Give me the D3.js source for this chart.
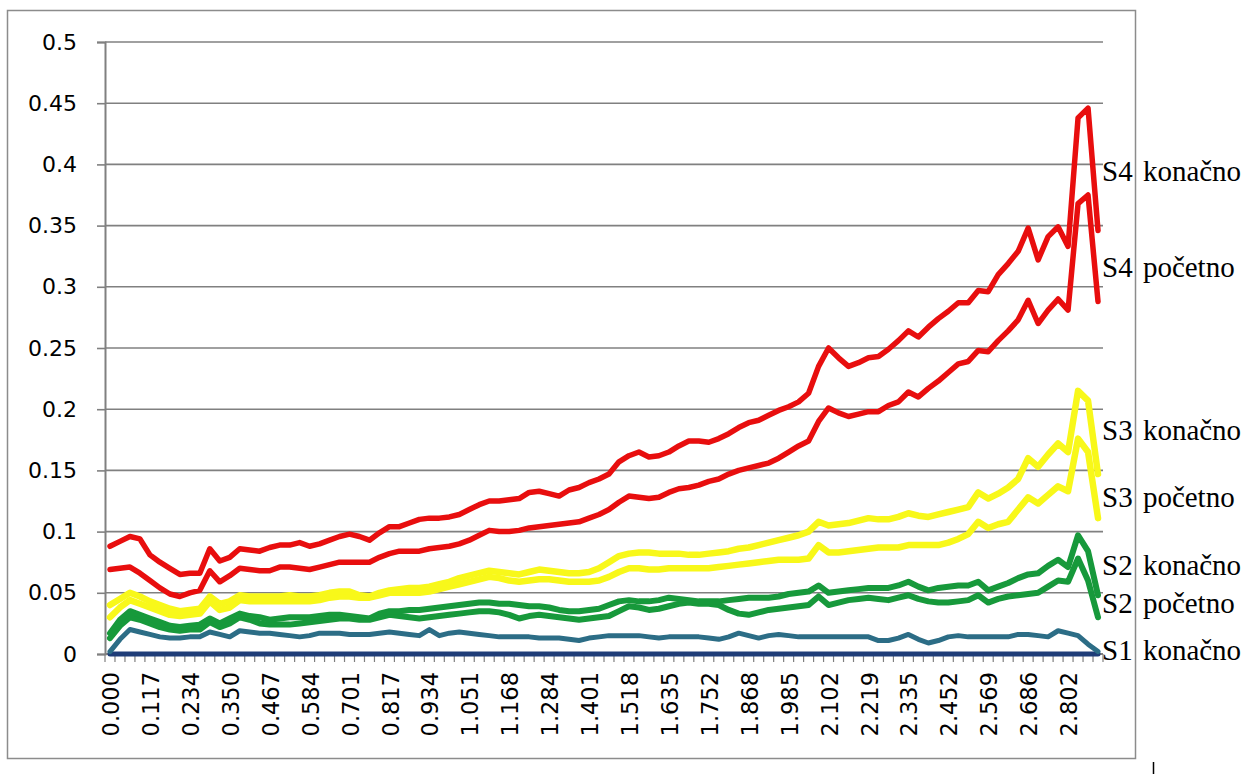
<!DOCTYPE html>
<html>
<head>
<meta charset="utf-8">
<script src="https://cdn.jsdelivr.net/npm/d3@7"></script>
<style>
  html, body { margin: 0; padding: 0; background: #fff; }
  svg { display: block; }
  .ylab text, .xlab text { font-family: "DejaVu Sans", Verdana, sans-serif; fill: #000; }
</style>
</head>
<body>
<svg id="chart" width="1257" height="774"></svg>
<script>
// Tick labels of the category (distance) axis, one every fourth category
const xTickLabels = ["0.000","0.117","0.234","0.350","0.467","0.584","0.701","0.817","0.934",
  "1.051","1.168","1.284","1.401","1.518","1.635","1.752","1.868","1.985","2.102","2.219",
  "2.335","2.452","2.569","2.686","2.802"];
const yTicks = [0, 0.05, 0.1, 0.15, 0.2, 0.25, 0.3, 0.35, 0.4, 0.45, 0.5];

// Series values, 100 points each
const s4Konacno = [0.088,0.092,0.096,0.094,0.081,0.075,0.070,0.065,0.066,0.066,
  0.086,0.076,0.079,0.086,0.085,0.084,0.087,0.089,0.089,0.091,
  0.088,0.090,0.093,0.096,0.098,0.096,0.093,0.099,0.104,0.104,
  0.107,0.110,0.111,0.111,0.112,0.114,0.118,0.122,0.125,0.125,
  0.126,0.127,0.132,0.133,0.131,0.129,0.134,0.136,0.140,0.143,
  0.147,0.157,0.162,0.165,0.161,0.162,0.165,0.170,0.174,0.174,
  0.173,0.176,0.180,0.185,0.189,0.191,0.195,0.199,0.202,0.206,
  0.213,0.235,0.250,0.242,0.235,0.238,0.242,0.243,0.249,0.256,
  0.264,0.259,0.267,0.274,0.280,0.287,0.287,0.297,0.296,0.310,
  0.319,0.329,0.348,0.322,0.341,0.349,0.333,0.438,0.446,0.346];
const s4Pocetno = [0.069,0.070,0.071,0.066,0.060,0.054,0.049,0.047,0.050,0.052,
  0.068,0.059,0.064,0.070,0.069,0.068,0.068,0.071,0.071,0.070,
  0.069,0.071,0.073,0.075,0.075,0.075,0.075,0.079,0.082,0.084,
  0.084,0.084,0.086,0.087,0.088,0.090,0.093,0.097,0.101,0.100,
  0.100,0.101,0.103,0.104,0.105,0.106,0.107,0.108,0.111,0.114,
  0.118,0.124,0.129,0.128,0.127,0.128,0.132,0.135,0.136,0.138,
  0.141,0.143,0.147,0.150,0.152,0.154,0.156,0.160,0.165,0.170,
  0.174,0.190,0.201,0.197,0.194,0.196,0.198,0.198,0.203,0.206,
  0.214,0.210,0.217,0.223,0.230,0.237,0.239,0.248,0.247,0.256,
  0.264,0.273,0.289,0.270,0.281,0.290,0.281,0.368,0.375,0.288];
const s3Konacno = [0.040,0.045,0.050,0.047,0.043,0.040,0.037,0.035,0.036,0.037,
  0.047,0.041,0.043,0.048,0.047,0.047,0.047,0.047,0.048,0.047,
  0.047,0.048,0.050,0.051,0.051,0.048,0.047,0.050,0.052,0.053,
  0.054,0.054,0.055,0.057,0.059,0.062,0.064,0.066,0.068,0.067,
  0.066,0.065,0.067,0.069,0.068,0.067,0.066,0.066,0.067,0.070,
  0.075,0.080,0.082,0.083,0.083,0.082,0.082,0.082,0.081,0.081,
  0.082,0.083,0.084,0.086,0.087,0.089,0.091,0.093,0.095,0.097,
  0.100,0.108,0.105,0.106,0.107,0.109,0.111,0.110,0.110,0.112,
  0.115,0.113,0.112,0.114,0.116,0.118,0.120,0.132,0.127,0.131,
  0.136,0.143,0.160,0.153,0.163,0.172,0.165,0.215,0.207,0.147];
const s3Pocetno = [0.030,0.038,0.044,0.041,0.038,0.035,0.032,0.031,0.032,0.033,
  0.043,0.036,0.038,0.044,0.043,0.043,0.043,0.043,0.043,0.043,
  0.043,0.044,0.046,0.047,0.047,0.046,0.046,0.048,0.050,0.050,
  0.050,0.050,0.051,0.053,0.055,0.057,0.059,0.061,0.063,0.062,
  0.060,0.059,0.060,0.061,0.061,0.060,0.059,0.059,0.059,0.060,
  0.063,0.067,0.070,0.070,0.069,0.069,0.070,0.070,0.070,0.070,
  0.070,0.071,0.072,0.073,0.074,0.075,0.076,0.077,0.077,0.077,
  0.078,0.089,0.083,0.083,0.084,0.085,0.086,0.087,0.087,0.087,
  0.089,0.089,0.089,0.089,0.091,0.094,0.098,0.108,0.103,0.106,
  0.108,0.118,0.128,0.123,0.130,0.137,0.133,0.176,0.165,0.111];
const s2Konacno = [0.017,0.028,0.035,0.032,0.029,0.026,0.023,0.022,0.023,0.024,
  0.029,0.025,0.029,0.033,0.031,0.030,0.028,0.029,0.030,0.030,
  0.030,0.031,0.032,0.032,0.031,0.030,0.029,0.033,0.035,0.035,
  0.036,0.036,0.037,0.038,0.039,0.040,0.041,0.042,0.042,0.041,
  0.041,0.040,0.039,0.039,0.038,0.036,0.035,0.035,0.036,0.037,
  0.040,0.043,0.044,0.043,0.043,0.044,0.046,0.045,0.044,0.043,
  0.043,0.043,0.044,0.045,0.046,0.046,0.046,0.047,0.049,0.050,
  0.051,0.056,0.050,0.051,0.052,0.053,0.054,0.054,0.054,0.056,
  0.059,0.055,0.052,0.054,0.055,0.056,0.056,0.059,0.052,0.055,
  0.058,0.062,0.065,0.066,0.072,0.077,0.071,0.097,0.084,0.048];
const s2Pocetno = [0.013,0.023,0.030,0.028,0.025,0.022,0.020,0.019,0.020,0.020,
  0.026,0.022,0.025,0.030,0.028,0.025,0.024,0.024,0.024,0.025,
  0.026,0.027,0.028,0.029,0.029,0.028,0.028,0.030,0.032,0.031,
  0.030,0.029,0.030,0.031,0.032,0.033,0.034,0.035,0.035,0.034,
  0.032,0.029,0.031,0.032,0.031,0.030,0.029,0.028,0.029,0.030,
  0.031,0.035,0.039,0.038,0.036,0.037,0.039,0.041,0.042,0.041,
  0.041,0.040,0.036,0.033,0.032,0.034,0.036,0.037,0.038,0.039,
  0.040,0.047,0.040,0.042,0.044,0.045,0.046,0.045,0.044,0.046,
  0.048,0.045,0.043,0.042,0.042,0.043,0.044,0.048,0.042,0.045,
  0.047,0.048,0.049,0.050,0.055,0.060,0.059,0.078,0.060,0.030];
const s1Konacno = [0.002,0.012,0.020,0.018,0.016,0.014,0.013,0.013,0.014,0.014,
  0.018,0.016,0.014,0.019,0.018,0.017,0.017,0.016,0.015,0.014,
  0.015,0.017,0.017,0.017,0.016,0.016,0.016,0.017,0.018,0.017,
  0.016,0.015,0.020,0.015,0.017,0.018,0.017,0.016,0.015,0.014,
  0.014,0.014,0.014,0.013,0.013,0.013,0.012,0.011,0.013,0.014,
  0.015,0.015,0.015,0.015,0.014,0.013,0.014,0.014,0.014,0.014,
  0.013,0.012,0.014,0.017,0.015,0.013,0.015,0.016,0.015,0.014,
  0.014,0.014,0.014,0.014,0.014,0.014,0.014,0.011,0.011,0.013,
  0.016,0.012,0.009,0.011,0.014,0.015,0.014,0.014,0.014,0.014,
  0.014,0.016,0.016,0.015,0.014,0.019,0.017,0.015,0.008,0.002];
const s1Pocetno = [0,0,0,0,0,0,0,0,0,0, 0,0,0,0,0,0,0,0,0,0,
  0,0,0,0,0,0,0,0,0,0, 0,0,0,0,0,0,0,0,0,0,
  0,0,0,0,0,0,0,0,0,0, 0,0,0,0,0,0,0,0,0,0,
  0,0,0,0,0,0,0,0,0,0, 0,0,0,0,0,0,0,0,0,0,
  0,0,0,0,0,0,0,0,0,0, 0,0,0,0,0,0,0,0,0,0];

// Series in drawing order, with colours
const series = [
  { values: s1Pocetno, color: "#1f3d78", width: 5 },
  { values: s1Konacno, color: "#2c6d86", width: 5 },
  { values: s2Pocetno, color: "#17993b", width: 6 },
  { values: s2Konacno, color: "#17993b", width: 6 },
  { values: s3Pocetno, color: "#f8f81a", width: 6.5 },
  { values: s3Konacno, color: "#f8f81a", width: 6.5 },
  { values: s4Pocetno, color: "#e80e0e", width: 5.5 },
  { values: s4Konacno, color: "#e80e0e", width: 5.5 }
];

// Series names written at the right-hand side, anchored at a value height
const endLabels = ["S4 konačno", "S4 početno", "S3 konačno", "S3 početno", "S2 konačno", "S2 početno", "S1 konačno"];
const endLabelAt = [0.395, 0.316, 0.183, 0.128, 0.0727, 0.0417, 0.003];

const svg = d3.select("#chart");
const plot = { left: 105, right: 1103, top: 42, bottom: 654 };
const n = s4Konacno.length;

const x = d3.scaleBand().domain(d3.range(n)).range([plot.left, plot.right]).padding(0);
const xc = i => x(i) + x.bandwidth() / 2;
const y = d3.scaleLinear().domain([0, 0.5]).range([plot.bottom, plot.top]);

// Outer chart frame
svg.append("rect")
  .attr("x", 7.5).attr("y", 10.5).attr("width", 1128).attr("height", 748)
  .attr("fill", "none").attr("stroke", "#8c8c8c").attr("stroke-width", 1.5);
svg.append("line")
  .attr("x1", 1153.5).attr("x2", 1153.5).attr("y1", 762).attr("y2", 774)
  .attr("stroke", "#000").attr("stroke-width", 1.5);

// Horizontal gridlines
svg.append("g").selectAll("line")
  .data(yTicks.filter(d => d > 0))
  .join("line")
  .attr("x1", plot.left).attr("x2", plot.right)
  .attr("y1", d => y(d)).attr("y2", d => y(d))
  .attr("stroke", "#808080").attr("stroke-width", 1.6);

// Y axis
const yAxis = svg.append("g").attr("class", "ylab")
  .attr("transform", `translate(${plot.left},0)`)
  .call(d3.axisLeft(y).tickValues(yTicks).tickSize(8).tickPadding(20)
    .tickFormat(d => String(+d.toFixed(2))));
yAxis.select(".domain").attr("stroke", "#808080").attr("stroke-width", 2);
yAxis.selectAll(".tick line").attr("stroke", "#808080").attr("stroke-width", 1.6);
yAxis.selectAll(".tick text").attr("font-size", 22);

// X axis: ticks on every category boundary, labels every fourth category
const xg = svg.append("g").attr("class", "xlab");
xg.append("line")
  .attr("x1", plot.left).attr("x2", plot.right)
  .attr("y1", plot.bottom).attr("y2", plot.bottom)
  .attr("stroke", "#808080").attr("stroke-width", 2);
xg.selectAll("line.tk")
  .data(d3.range(n + 1))
  .join("line").attr("class", "tk")
  .attr("x1", i => (i < n ? x(i) : plot.right))
  .attr("x2", i => (i < n ? x(i) : plot.right))
  .attr("y1", plot.bottom).attr("y2", plot.bottom + 8)
  .attr("stroke", "#808080").attr("stroke-width", 1.2);
xg.selectAll("text")
  .data(xTickLabels)
  .join("text")
  .attr("transform", (d, k) => `translate(${xc(k * 4) + 1},${plot.bottom + 18}) rotate(-90)`)
  .attr("text-anchor", "end")
  .attr("dy", "0.36em")
  .attr("font-size", 22.5)
  .text(d => d);

// Series lines
const line = d3.line().x((d, i) => xc(i)).y(d => y(d)).curve(d3.curveLinear);
svg.append("g").selectAll("path")
  .data(series)
  .join("path")
  .attr("d", d => line(d.values))
  .attr("fill", "none")
  .attr("stroke", d => d.color)
  .attr("stroke-width", d => d.width)
  .attr("stroke-linejoin", "round")
  .attr("stroke-linecap", "round");

// Series names
svg.append("g").selectAll("text")
  .data(endLabels)
  .join("text")
  .attr("x", 1102)
  .attr("y", (d, k) => y(endLabelAt[k]))
  .attr("dy", "0.35em")
  .attr("font-family", "'Liberation Serif', 'Times New Roman', serif")
  .attr("font-size", 29)
  .attr("word-spacing", 3)
  .attr("fill", "#000")
  .text(d => d);
</script>
</body>
</html>
